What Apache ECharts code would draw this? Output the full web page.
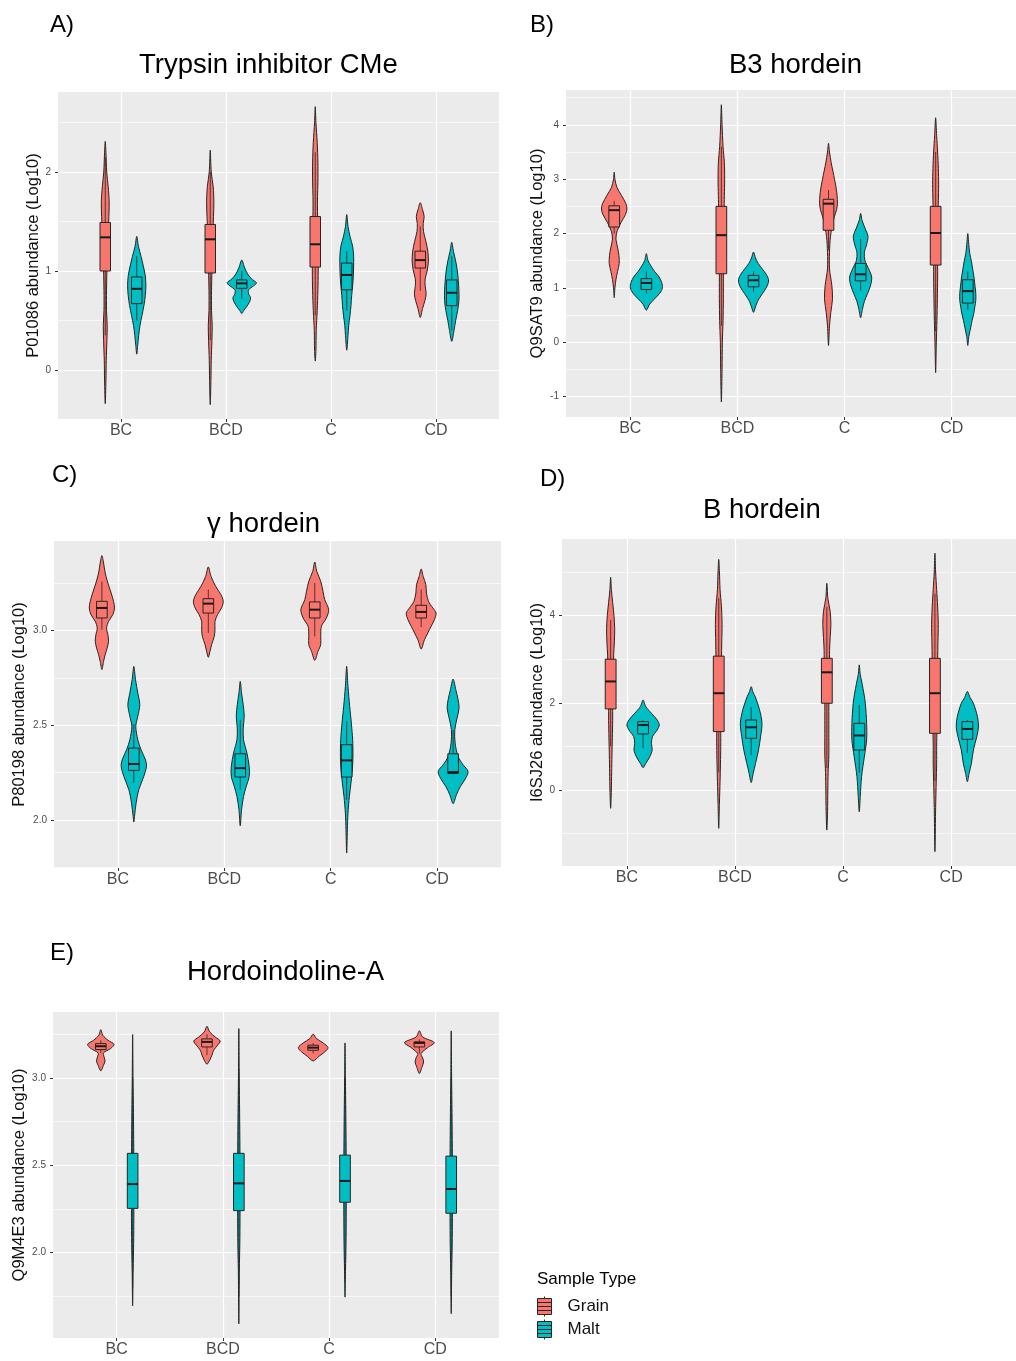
<!DOCTYPE html>
<html><head><meta charset="utf-8">
<script src="https://cdn.jsdelivr.net/npm/echarts@6/dist/echarts.min.js"></script>
<style>html,body{margin:0;padding:0;background:#fff}#c{width:1016px;height:1361px}</style>
</head><body><div id="c"></div>
<script>
// ---------- DATA ----------
const categories = ['BC', 'BCD', 'C', 'CD'];
const sampleTypes = ['Grain', 'Malt'];
const panelLabels = ['A)', 'B)', 'C)', 'D)', 'E)'];
const panelTitles = ['Trypsin inhibitor CMe', 'B3 hordein', 'γ hordein', 'B hordein', 'Hordoindoline-A'];
const yAxisNames = ['P01086 abundance (Log10)', 'Q9SAT9 abundance (Log10)', 'P80198 abundance (Log10)', 'I6SJ26 abundance (Log10)', 'Q9M4E3 abundance (Log10)'];
const yTickValues = [[0, 1, 2], [-1, 0, 1, 2, 3, 4], [2.0, 2.5, 3.0], [0, 2, 4], [2.0, 2.5, 3.0]];
const yTickDecimals = [0, 0, 1, 0, 1];
const legendTitle = 'Sample Type';

// box stats per category: [lower whisker, Q1, median, Q3, upper whisker]
const A_grain_box = [[0.35, 1.00, 1.34, 1.49, 2.15], [0.30, 0.98, 1.32, 1.47, 2.00], [0.55, 1.04, 1.27, 1.55, 2.20], [0.80, 1.03, 1.11, 1.20, 1.45]];
const A_malt_box = [[0.50, 0.67, 0.82, 0.94, 1.15], [0.72, 0.825, 0.875, 0.91, 1.00], [0.60, 0.81, 0.96, 1.08, 1.20], [0.40, 0.65, 0.78, 0.91, 1.15]];
const B_grain_box = [[2.0, 2.12, 2.43, 2.51, 2.6], [0.3, 1.26, 1.97, 2.50, 3.6], [1.7, 2.06, 2.55, 2.63, 2.8], [0.2, 1.42, 2.01, 2.50, 3.5]];
const B_malt_box = [[0.9, 0.97, 1.09, 1.17, 1.3], [0.93, 1.02, 1.14, 1.23, 1.3], [0.95, 1.13, 1.25, 1.45, 1.9], [0.6, 0.72, 0.94, 1.15, 1.3]];
const C_grain_box = [[3.005, 3.067, 3.12, 3.155, 3.26], [2.988, 3.093, 3.143, 3.169, 3.217], [2.97, 3.067, 3.111, 3.152, 3.252], [3.019, 3.067, 3.099, 3.134, 3.217]];
const C_malt_box = [[2.194, 2.261, 2.295, 2.379, 2.506], [2.159, 2.226, 2.273, 2.349, 2.529], [2.106, 2.226, 2.314, 2.397, 2.52], [2.24, 2.245, 2.252, 2.349, 2.476]];
const D_grain_box = [[1.0, 1.86, 2.49, 3.0, 3.9], [0.4, 1.34, 2.22, 3.07, 4.4], [0.5, 1.99, 2.7, 3.02, 4.2], [0.2, 1.3, 2.22, 3.02, 4.5]];
const D_malt_box = [[0.956, 1.285, 1.49, 1.568, 1.6], [0.8, 1.185, 1.438, 1.606, 1.9], [0.4, 0.918, 1.25, 1.53, 1.95], [0.85, 1.163, 1.4, 1.568, 1.6]];
const E_grain_box = [[3.143, 3.162, 3.181, 3.196, 3.215], [3.13, 3.177, 3.206, 3.223, 3.25], [3.14, 3.158, 3.173, 3.187, 3.2], [3.14, 3.177, 3.2, 3.206, 3.22]];
const E_malt_box = [[1.8, 2.253, 2.392, 2.568, 3.0], [1.75, 2.24, 2.396, 2.568, 3.05], [1.85, 2.288, 2.41, 2.558, 3.0], [1.75, 2.225, 2.364, 2.552, 3.0]];

// violin outlines per category: [value, relative density], top to bottom
const A_grain_violin = [
  [[2.31,0],[2.2,0.7],[2.0,1.5],[1.85,3],[1.7,4],[1.55,3.7],[1.4,3],[1.2,2.3],[1.0,1.7],[0.8,1.3],[0.6,1.3],[0.45,2],[0.3,1.7],[0.1,1],[-0.1,0.7],[-0.34,0]],
  [[2.22,0],[2.0,1],[1.85,3],[1.7,3.7],[1.55,3.3],[1.4,2.7],[1.2,2],[1.0,1.7],[0.8,1.3],[0.6,1.3],[0.45,2],[0.3,1.7],[0.1,1],[-0.1,0.7],[-0.35,0]],
  [[2.66,0],[2.5,0.7],[2.3,2],[2.1,2.7],[1.9,2.7],[1.75,2.3],[1.6,2.3],[1.4,2.7],[1.2,3],[1.0,3],[0.8,2.7],[0.6,2],[0.4,1],[0.2,0.7],[0.09,0]],
  [[1.69,0],[1.62,2.3],[1.55,4],[1.48,3],[1.4,3.3],[1.3,5.7],[1.2,7.7],[1.1,8.3],[1.0,7],[0.92,5],[0.85,5],[0.77,6],[0.7,4.7],[0.62,2.3],[0.53,0]]
];
const A_malt_violin = [
  [[1.35,0],[1.25,1.7],[1.15,4.3],[1.05,6.7],[0.95,8.7],[0.85,9.3],[0.75,8.7],[0.65,7.3],[0.55,5.3],[0.45,3.3],[0.35,2],[0.25,1],[0.16,0]],
  [[1.11,0],[1.03,3],[0.97,6],[0.92,10],[0.88,15],[0.85,12],[0.81,7],[0.77,7],[0.73,9],[0.69,8],[0.64,5],[0.60,2],[0.57,0]],
  [[1.57,0],[1.45,1.3],[1.35,3.3],[1.25,6],[1.15,7],[1.05,7],[0.95,6.7],[0.85,6],[0.75,5],[0.65,4.3],[0.55,3.3],[0.45,2],[0.35,1.3],[0.2,0]],
  [[1.29,0],[1.2,1.7],[1.1,4],[1.0,5.7],[0.9,6.7],[0.8,7.3],[0.7,7.3],[0.6,6],[0.5,4],[0.4,2.3],[0.29,0]]
];
const B_grain_violin = [
  [[3.13,0],[3.0,0.7],[2.85,2.7],[2.7,7.3],[2.55,11.7],[2.45,12.7],[2.35,11.3],[2.2,6.7],[2.05,3],[1.9,1.7],[1.75,3.3],[1.6,4.7],[1.45,5],[1.3,3.3],[1.15,1.7],[1.0,0.7],[0.82,0]],
  [[4.37,0],[4.0,0.7],[3.6,1.7],[3.3,3],[3.0,3.3],[2.7,3],[2.4,2.7],[2.0,2.3],[1.6,2],[1.2,2],[0.8,2],[0.4,1.7],[0.0,1],[-0.5,0.7],[-1.1,0]],
  [[3.66,0],[3.5,1],[3.3,2.7],[3.0,6],[2.75,8.3],[2.5,8.7],[2.25,5],[1.95,2],[1.65,1],[1.35,1],[1.05,3.3],[0.8,4],[0.55,2.3],[0.3,1],[-0.06,0]],
  [[4.13,0],[3.8,1],[3.5,2],[3.2,2.7],[2.9,3],[2.6,2.7],[2.3,2.3],[2.0,2.3],[1.6,2],[1.2,2],[0.8,1.7],[0.4,1.3],[0.0,0.7],[-0.56,0]]
];
const B_malt_violin = [
  [[1.63,0],[1.5,1.7],[1.4,4.7],[1.3,8.3],[1.2,12.7],[1.1,15.3],[1.0,16],[0.9,13.3],[0.8,8.3],[0.7,3.3],[0.59,0]],
  [[1.66,0],[1.55,2],[1.45,4.7],[1.35,8.7],[1.25,12.7],[1.15,15],[1.05,14],[0.95,11],[0.85,7.3],[0.75,4],[0.65,2],[0.55,0]],
  [[2.37,0],[2.25,1.3],[2.1,4.3],[1.95,7.3],[1.8,6],[1.65,3.7],[1.5,4.3],[1.35,8],[1.2,11],[1.05,10],[0.9,7],[0.75,3.7],[0.6,1.7],[0.45,0]],
  [[2.0,0],[1.8,1],[1.63,2],[1.48,3.7],[1.33,5],[1.18,6.3],[1.02,7.3],[0.9,8],[0.77,8],[0.65,7],[0.53,6],[0.4,4.3],[0.28,3],[0.1,1],[-0.06,0]]
];
const C_grain_violin = [
  [[3.397,0],[3.358,1.7],[3.305,3.3],[3.252,6],[3.199,9.3],[3.155,11.7],[3.12,12.7],[3.085,11],[3.049,6.7],[3.014,4.7],[2.979,6],[2.944,6.7],[2.908,5.3],[2.873,3.3],[2.838,1.7],[2.794,0]],
  [[3.337,0],[3.287,2.7],[3.235,7.3],[3.19,12.7],[3.155,15],[3.12,13.3],[3.085,9.3],[3.049,6.7],[3.005,6.7],[2.97,6],[2.926,3.3],[2.891,1.7],[2.859,0]],
  [[3.363,0],[3.314,2],[3.261,6],[3.208,8.3],[3.164,10],[3.111,14],[3.067,11.7],[3.023,6.7],[2.97,6],[2.926,6],[2.891,3.3],[2.843,0]],
  [[3.326,0],[3.287,2],[3.243,4.7],[3.199,5.3],[3.155,7.3],[3.12,11.7],[3.093,15],[3.058,13.3],[3.023,10],[2.988,6.7],[2.952,3.3],[2.903,0]]
];
const C_malt_violin = [
  [[2.811,0],[2.741,1.7],[2.67,4],[2.608,6],[2.547,4],[2.494,2],[2.423,4],[2.37,7.3],[2.317,11.7],[2.282,12.7],[2.229,10],[2.159,5],[2.088,2.3],[2.018,0.7],[1.988,0]],
  [[2.732,0],[2.67,1.3],[2.608,3],[2.547,4],[2.485,3],[2.423,3.3],[2.353,6.7],[2.282,9],[2.229,9],[2.176,6],[2.123,3.3],[2.053,1.3],[1.968,0]],
  [[2.811,0],[2.705,1.3],[2.6,3],[2.511,4.7],[2.423,6],[2.335,6.3],[2.265,5.7],[2.194,4.3],[2.123,2.7],[2.035,1.3],[1.947,0.7],[1.824,0]],
  [[2.744,0],[2.688,2.7],[2.635,5],[2.591,6],[2.538,4],[2.476,1.7],[2.406,2],[2.335,5],[2.291,10],[2.256,15],[2.22,12.7],[2.176,7.3],[2.132,3.3],[2.085,0]]
];
const D_grain_violin = [
  [[4.88,0],[4.6,0.7],[4.3,2],[4.0,3.3],[3.7,4],[3.4,3.7],[3.1,3],[2.8,2.7],[2.4,2.3],[2.0,2],[1.6,2],[1.2,1.7],[0.8,1.3],[0.4,1],[0.0,0.7],[-0.42,0]],
  [[5.29,0],[5.0,0.7],[4.6,1.3],[4.2,2.7],[3.8,3.3],[3.4,3],[3.0,2.7],[2.6,2.3],[2.2,2],[1.8,2],[1.4,2],[1.0,2],[0.6,1.7],[0.2,1.3],[-0.3,0.7],[-0.88,0]],
  [[4.74,0],[4.4,1],[4.1,3.3],[3.8,4],[3.5,3.3],[3.2,2.7],[2.8,2.7],[2.4,2.3],[2.0,2],[1.6,2],[1.2,2],[0.8,2],[0.4,1.3],[0.0,1],[-0.5,0.7],[-0.92,0]],
  [[5.43,0],[5.0,0.7],[4.6,1.7],[4.2,2.7],[3.8,3.3],[3.4,3],[3.0,2.7],[2.6,2.3],[2.2,2],[1.8,2],[1.4,2],[1.0,1.7],[0.6,1.7],[0.2,1.3],[-0.4,0.7],[-1.415,0]]
];
const D_malt_violin = [
  [[2.065,0],[1.912,2.7],[1.759,8.3],[1.606,14],[1.491,16],[1.377,14],[1.224,9.3],[1.071,8.3],[0.918,9],[0.765,6.7],[0.612,2.7],[0.512,0]],
  [[2.37,0],[2.25,1.7],[2.14,4],[1.84,8.3],[1.53,10.7],[1.22,9.3],[0.92,7.3],[0.61,4.3],[0.38,2],[0.17,0]],
  [[2.87,0],[2.65,1],[2.45,2.7],[2.2,4.7],[1.99,6],[1.53,7.3],[1.15,7.3],[0.76,5],[0.31,2.3],[-0.15,1],[-0.5,0]],
  [[2.26,0],[2.12,2.7],[1.99,6],[1.68,10],[1.45,11],[1.22,9.3],[0.92,6],[0.61,4],[0.38,1.7],[0.19,0]]
];
const E_grain_violin = [
  [[3.276,0],[3.244,2],[3.215,7.3],[3.192,13.3],[3.168,10],[3.143,2.7],[3.12,3.3],[3.097,4.3],[3.072,2.7],[3.04,0]],
  [[3.295,0],[3.263,2.7],[3.234,8.3],[3.211,13.3],[3.187,10.7],[3.158,6.7],[3.13,5],[3.101,2.7],[3.078,0]],
  [[3.25,0],[3.225,3.3],[3.2,10],[3.173,15],[3.149,11.7],[3.124,6],[3.097,0]],
  [[3.269,0],[3.234,3.3],[3.202,15],[3.173,8.3],[3.139,1.7],[3.114,3.3],[3.091,4.3],[3.063,2.7],[3.025,0]]
];
const E_malt_violin = [
  [[3.248,0],[3.0,0.4],[2.8,0.8],[2.6,1.1],[2.4,1.3],[2.2,1.2],[2.05,1.0],[1.9,0.5],[1.695,0]],
  [[3.282,0],[3.0,0.4],[2.8,0.8],[2.6,1.1],[2.4,1.3],[2.2,1.2],[2.05,1.0],[1.9,0.5],[1.592,0]],
  [[3.2,0],[3.0,0.4],[2.8,0.8],[2.6,1.1],[2.4,1.3],[2.2,1.2],[2.05,1.0],[1.9,0.5],[1.745,0]],
  [[3.269,0],[3.0,0.4],[2.8,0.8],[2.6,1.1],[2.4,1.3],[2.2,1.2],[2.05,1.0],[1.9,0.5],[1.65,0]]
];

// ---------- LAYOUT / STYLE ----------
const boxSets = [[A_grain_box, A_malt_box], [B_grain_box, B_malt_box], [C_grain_box, C_malt_box], [D_grain_box, D_malt_box], [E_grain_box, E_malt_box]];
const violinSets = [[A_grain_violin, A_malt_violin], [B_grain_violin, B_malt_violin], [C_grain_violin, C_malt_violin], [D_grain_violin, D_malt_violin], [E_grain_violin, E_malt_violin]];
const typeColors = ['#F8766D', '#00BFC4'];
const FONT = '"Liberation Sans", Arial, Helvetica, sans-serif';
const DODGE = 0.15;      // category units
const BOXW = 0.05;       // half box width, category units
const VS = 1 / 107;      // density -> category units
const OUTLINE = '#262626';

const layout = [
  {left: 58,  top: 92,   width: 441, height: 327, yMin: -0.495, yMax: 2.808, nameGap: 15, step: 1,   lab: [50, 13],  tit: [139, 51]},
  {left: 566, top: 90,   width: 450, height: 327, yMin: -1.376, yMax: 4.641, nameGap: 20, step: 1,   lab: [530, 13], tit: [729, 51]},
  {left: 54,  top: 541,  width: 447, height: 327, yMin: 1.745,  yMax: 3.474, nameGap: 26, step: 0.5, lab: [52, 463], tit: [207, 510]},
  {left: 562, top: 539,  width: 458, height: 327, yMin: -1.743, yMax: 5.757, nameGap: 16, step: 2,   lab: [540, 467], tit: [703, 496]},
  {left: 53,  top: 1012, width: 446, height: 326, yMin: 1.511,  yMax: 3.377, nameGap: 25, step: 0.5, lab: [50, 941], tit: [187, 958]}
];

const xTickValues = categories.map((c, i) => i + 1);

const grids = [], xAxes = [], yAxes = [], series = [], titles = [];
layout.forEach((L, p) => {
  grids.push({left: L.left, top: L.top, width: L.width, height: L.height, show: true, backgroundColor: '#EBEBEB', borderWidth: 0, containLabel: false});
  xAxes.push({
    gridIndex: p, type: 'value', min: 0.4, max: 4.6, minInterval: 1, maxInterval: 1, position: 'bottom',
    axisLine: {show: false, onZero: false},
    axisTick: {show: true, length: 3, customValues: xTickValues, lineStyle: {color: '#333', width: 1}},
    axisLabel: {customValues: xTickValues, margin: 4, fontSize: 16, color: '#4d4d4d', fontFamily: FONT,
      formatter: v => categories[Math.round(v) - 1] || ''},
    splitLine: {show: true, lineStyle: {color: '#ffffff', width: 1.2}}
  });
  yAxes.push({
    gridIndex: p, type: 'value', min: L.yMin, max: L.yMax, minInterval: L.step, maxInterval: L.step, position: 'left',
    name: yAxisNames[p], nameLocation: 'middle', nameGap: L.nameGap,
    nameTextStyle: {fontSize: 16.5, color: '#111', fontFamily: FONT},
    axisLine: {show: false, onZero: false},
    axisTick: {show: true, length: 3, customValues: yTickValues[p], lineStyle: {color: '#333', width: 1}},
    axisLabel: {customValues: yTickValues[p], margin: 7, fontSize: 10, color: '#4d4d4d', fontFamily: FONT,
      formatter: v => v.toFixed(yTickDecimals[p])},
    splitLine: {show: true, lineStyle: {color: '#ffffff', width: 1.2}},
    minorTick: {show: false, splitNumber: 2},
    minorSplitLine: {show: true, lineStyle: {color: '#ffffff', width: 0.6}}
  });
  titles.push({text: panelLabels[p], left: L.lab[0], top: L.lab[1], padding: 0,
    textStyle: {fontSize: 24, fontWeight: 'normal', color: '#000', fontFamily: FONT}});
  titles.push({text: panelTitles[p], left: L.tit[0], top: L.tit[1], padding: 0,
    textStyle: {fontSize: 27.5, fontWeight: 'normal', color: '#000', fontFamily: FONT}});

  [0, 1].forEach(t => {
    const violins = violinSets[p][t];
    const boxes = boxSets[p][t];
    const offset = t === 0 ? -DODGE : DODGE;
    const color = typeColors[t];
    series.push({
      type: 'custom', name: sampleTypes[t], xAxisIndex: p, yAxisIndex: p,
      itemStyle: {color: color, borderColor: OUTLINE},
      data: boxes.map((b, i) => [xTickValues[i]].concat(b)),
      encode: {x: 0, y: [1, 2, 3, 4, 5]},
      renderItem: function (params, api) {
        const cx = api.value(0) + offset;
        const prof = violins[params.dataIndex];
        const pts = [];
        for (let k = 0; k < prof.length; k++) pts.push(api.coord([cx - prof[k][1] * VS, prof[k][0]]));
        for (let k = prof.length - 2; k >= 1; k--) pts.push(api.coord([cx + prof[k][1] * VS, prof[k][0]]));
        const lo = api.coord([cx, api.value(1)]);
        const q1 = api.coord([cx, api.value(2)]);
        const md = api.coord([cx, api.value(3)]);
        const q3 = api.coord([cx, api.value(4)]);
        const hi = api.coord([cx, api.value(5)]);
        const bl = api.coord([cx - BOXW, api.value(3)])[0];
        const br = api.coord([cx + BOXW, api.value(3)])[0];
        return {type: 'group', children: [
          {type: 'polygon', shape: {points: pts, smooth: 0.3}, style: {fill: color, stroke: OUTLINE, lineWidth: 1}},
          {type: 'line', shape: {x1: hi[0], y1: hi[1], x2: q3[0], y2: q3[1]}, style: {stroke: OUTLINE, lineWidth: 0.8}},
          {type: 'line', shape: {x1: q1[0], y1: q1[1], x2: lo[0], y2: lo[1]}, style: {stroke: OUTLINE, lineWidth: 0.8}},
          {type: 'rect', shape: {x: bl, y: q3[1], width: br - bl, height: q1[1] - q3[1]}, style: {fill: color, stroke: OUTLINE, lineWidth: 1}},
          {type: 'line', shape: {x1: bl, y1: md[1], x2: br, y2: md[1]}, style: {stroke: '#1a1a1a', lineWidth: 2}}
        ]};
      }
    });
  });
});
titles.push({text: legendTitle, left: 537, top: 1271, padding: 0,
  textStyle: {fontSize: 17, fontWeight: 'normal', color: '#000', fontFamily: FONT}});

const chart = echarts.init(document.getElementById('c'), null, {renderer: 'canvas', width: 1016, height: 1361});
chart.setOption({
  animation: false,
  backgroundColor: '#ffffff',
  title: titles,
  grid: grids,
  xAxis: xAxes,
  yAxis: yAxes,
  legend: {
    data: sampleTypes, orient: 'vertical', left: 537, top: 1296, padding: 0,
    itemWidth: 14, itemHeight: 20, itemGap: 2, symbolKeepAspect: false,
    icon: 'path://M0,2H14V18H0Z M7,0V2 M7,18V20 M0,6H14 M0,10H14 M0,14H14',
    itemStyle: {borderColor: OUTLINE, borderWidth: 1},
    textStyle: {fontSize: 17, color: '#111', fontFamily: FONT, padding: [0, 0, 0, 11]},
    selectedMode: false
  },
  series: series
});
</script>
</body></html>
